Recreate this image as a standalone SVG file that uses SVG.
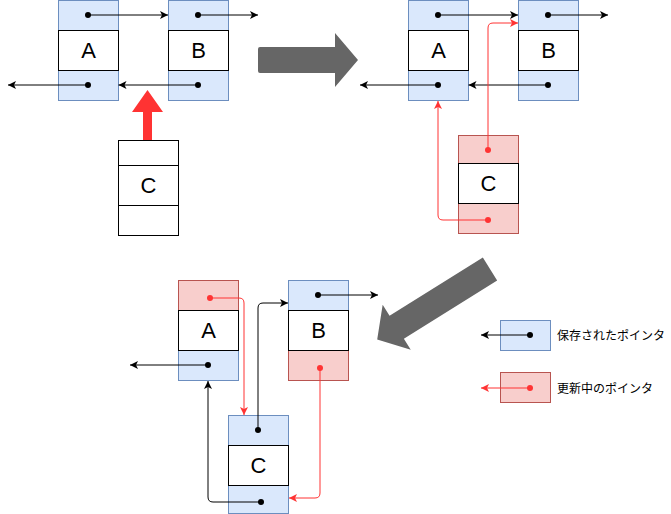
<svg xmlns="http://www.w3.org/2000/svg" width="671" height="514" viewBox="0 0 671 514">
<style>
.blue{fill:#dae8fc;stroke:#6c8ebf;stroke-width:1}
.red{fill:#f8cecc;stroke:#b85450;stroke-width:1}
.white{fill:#ffffff;stroke:#000000;stroke-width:1}
.lbl{font-family:"Liberation Sans",Arial,sans-serif;font-size:22px;text-anchor:middle;fill:#000}
.leg{font-family:"Noto Sans CJK JP","Noto Sans",sans-serif;font-size:12px;fill:#000}
.conn{fill:none;stroke:#000;stroke-width:1}
.rconn{fill:none;stroke:#ff3333;stroke-width:1}
.dot{fill:#000}
.rdot{fill:#ff3333}
.big{fill:#666666}
</style>
<defs>
<marker id="ah" markerUnits="userSpaceOnUse" markerWidth="10" markerHeight="10" refX="8" refY="4" orient="auto"><path d="M0,0 L8,4 L0,8 L2,4 Z" fill="#000"/></marker>
<marker id="rah" markerUnits="userSpaceOnUse" markerWidth="10" markerHeight="10" refX="8" refY="4" orient="auto"><path d="M0,0 L8,4 L0,8 L2,4 Z" fill="#ff3333"/></marker>
</defs>

<!-- Top-left -->
<g id="A1">
<rect class="blue" x="58.5" y="0.5" width="60" height="30"/>
<rect class="blue" x="58.5" y="70.5" width="60" height="30"/>
<rect class="white" x="58.5" y="30.5" width="60" height="40"/>
<text class="lbl" x="88.5" y="58">A</text>
</g>
<g id="B1">
<rect class="blue" x="168.5" y="0.5" width="60" height="30"/>
<rect class="blue" x="168.5" y="70.5" width="60" height="30"/>
<rect class="white" x="168.5" y="30.5" width="60" height="40"/>
<text class="lbl" x="198.5" y="58">B</text>
</g>
<g id="C1">
<rect class="white" x="118.5" y="140.5" width="60" height="25"/>
<rect class="white" x="118.5" y="205.5" width="60" height="30"/>
<rect class="white" x="118.5" y="165.5" width="60" height="40"/>
<text class="lbl" x="148.5" y="193">C</text>
</g>
<g id="insert-arrow">
<polygon points="143,140 143,112 132,112 147.5,90 163,112 152,112 152,140" fill="#ff3333"/>
</g>

<!-- Top-right -->
<g id="A2">
<rect class="blue" x="408.5" y="0.5" width="60" height="30"/>
<rect class="blue" x="408.5" y="70.5" width="60" height="30"/>
<rect class="white" x="408.5" y="30.5" width="60" height="40"/>
<text class="lbl" x="438.5" y="58">A</text>
</g>
<g id="B2">
<rect class="blue" x="518.5" y="0.5" width="60" height="30"/>
<rect class="blue" x="518.5" y="70.5" width="60" height="30"/>
<rect class="white" x="518.5" y="30.5" width="60" height="40"/>
<text class="lbl" x="548.5" y="58">B</text>
</g>
<g id="C2">
<rect class="red" x="458.5" y="135.5" width="60" height="28"/>
<rect class="red" x="458.5" y="203.5" width="60" height="30"/>
<rect class="white" x="458.5" y="163.5" width="60" height="40"/>
<text class="lbl" x="488.5" y="191">C</text>
</g>

<!-- Bottom -->
<g id="A3">
<rect class="red" x="178.5" y="280.5" width="60" height="30"/>
<rect class="blue" x="178.5" y="350.5" width="60" height="30"/>
<rect class="white" x="178.5" y="310.5" width="60" height="40"/>
<text class="lbl" x="208.5" y="338">A</text>
</g>
<g id="B3">
<rect class="blue" x="288.5" y="280.5" width="60" height="30"/>
<rect class="red" x="288.5" y="350.5" width="60" height="30"/>
<rect class="white" x="288.5" y="310.5" width="60" height="40"/>
<text class="lbl" x="318.5" y="338">B</text>
</g>
<g id="C3">
<rect class="blue" x="228.5" y="415.5" width="60" height="30"/>
<rect class="blue" x="228.5" y="485.5" width="60" height="28"/>
<rect class="white" x="228.5" y="445.5" width="60" height="40"/>
<text class="lbl" x="258.5" y="473">C</text>
</g>

<!-- Big step arrows -->
<g id="step1">
<path class="big" d="M260,47 L335,47 L335,33 L358,60 L335,87 L335,73 L260,73 Q258,73 258,71 L258,49 Q258,47 260,47 Z"/>
</g>
<g id="step2">
<path class="big" transform="translate(490,269) rotate(148)" d="M0,-13.5 L110,-13.5 L110,-26.5 L133,0 L110,26.5 L110,13.5 L0,13.5 Z"/>
</g>

<!-- Legend -->
<g id="legend-saved">
<rect class="blue" x="500.5" y="320.5" width="50" height="30"/>
<text class="leg" x="557" y="339.5">保存されたポインタ</text>
</g>
<g id="legend-updating">
<rect class="red" x="500.5" y="372.5" width="50" height="30"/>
<text class="leg" x="557" y="392.5">更新中のポインタ</text>
</g>

<!-- Connectors -->
<g id="connectors">
<path class="conn" d="M88,15 L168,15" marker-end="url(#ah)"/>
<path class="conn" d="M198,15 L258,15" marker-end="url(#ah)"/>
<path class="conn" d="M88,85 L8,85" marker-end="url(#ah)"/>
<path class="conn" d="M198,85 L118.5,85" marker-end="url(#ah)"/>

<path class="conn" d="M438,15 L518,15" marker-end="url(#ah)"/>
<path class="conn" d="M548,15 L608,15" marker-end="url(#ah)"/>
<path class="conn" d="M438,85 L360,85" marker-end="url(#ah)"/>
<path class="conn" d="M548,85 L468.5,85" marker-end="url(#ah)"/>
<path class="rconn" d="M488,150 L488,28 Q488,23 493,23 L518,23" marker-end="url(#rah)"/>
<path class="rconn" d="M488,220 L443,220 Q438,220 438,215 L438,101" marker-end="url(#rah)"/>

<path class="rconn" d="M210,298 L239,298 Q244,298 244,303 L244,415" marker-end="url(#rah)"/>
<path class="conn" d="M208,365 L130,365" marker-end="url(#ah)"/>
<path class="conn" d="M318,295 L378,295" marker-end="url(#ah)"/>
<path class="rconn" d="M320,368 L320,493 Q320,498 315,498 L289,498" marker-end="url(#rah)"/>
<path class="conn" d="M258,430 L258,308 Q258,303 263,303 L288,303" marker-end="url(#ah)"/>
<path class="conn" d="M261,502 L213,502 Q208,502 208,497 L208,381" marker-end="url(#ah)"/>

<path class="conn" d="M530,335 L481,335" marker-end="url(#ah)"/>
<path class="rconn" d="M530,388 L481,388" marker-end="url(#rah)"/>

<circle class="dot" cx="88" cy="15" r="3"/>
<circle class="dot" cx="198" cy="15" r="3"/>
<circle class="dot" cx="88" cy="85" r="3"/>
<circle class="dot" cx="198" cy="85" r="3"/>
<circle class="dot" cx="438" cy="15" r="3"/>
<circle class="dot" cx="548" cy="15" r="3"/>
<circle class="dot" cx="438" cy="85" r="3"/>
<circle class="dot" cx="548" cy="85" r="3"/>
<circle class="rdot" cx="488" cy="150" r="3"/>
<circle class="rdot" cx="488" cy="220" r="3"/>
<circle class="rdot" cx="210" cy="298" r="3"/>
<circle class="dot" cx="208" cy="365" r="3"/>
<circle class="dot" cx="318" cy="295" r="3"/>
<circle class="rdot" cx="320" cy="368" r="3"/>
<circle class="dot" cx="258" cy="430" r="3"/>
<circle class="dot" cx="261" cy="502" r="3"/>
<circle class="dot" cx="530" cy="335" r="3"/>
<circle class="rdot" cx="530" cy="388" r="3"/>
</g>
</svg>
